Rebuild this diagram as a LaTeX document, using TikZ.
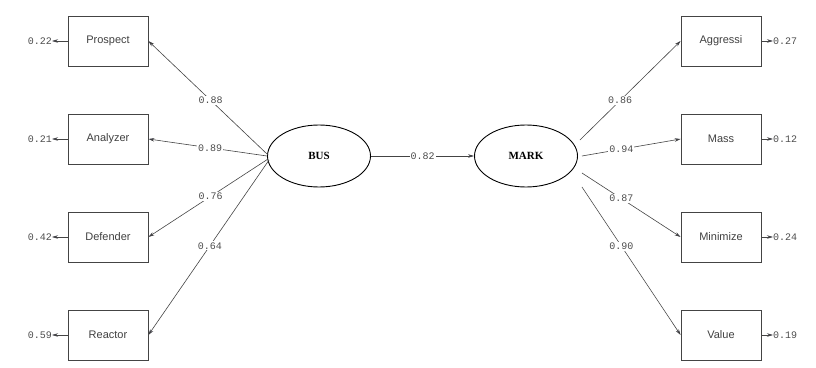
\documentclass[tikz,border=0pt]{standalone}
\usepackage{fontspec}
\setmainfont{Liberation Sans}
\newfontfamily\labfont{Liberation Mono}
\newfontfamily\latfont{Liberation Serif}
\usetikzlibrary{arrows.meta,shapes.geometric,calc}
\definecolor{tipblue}{HTML}{1A1A5C}
\definecolor{linegray}{HTML}{444444}
\tikzset{
  obsbox/.style={draw=linegray, line width=0.8pt, minimum width=80pt, minimum height=50pt, inner sep=0pt, font=\fontsize{11}{12}\selectfont, text=black!75},
  latent/.style={ellipse, draw=black, line width=0.9pt, minimum width=103pt, minimum height=62pt, inner sep=0pt, font=\latfont\bfseries\fontsize{11}{12}\selectfont},
  path/.style={draw=linegray, line width=0.6pt, -{Stealth[length=6pt,width=3.5pt,fill=tipblue]}},
  coef/.style={fill=white, inner sep=1pt, font=\labfont\fontsize{10}{11}\selectfont, text=black!70},
  errtxt/.style={inner sep=0pt, font=\labfont\fontsize{10}{11}\selectfont, text=black!70},
}
\begin{document}
\begin{tikzpicture}[x=1pt,y=1pt]
\useasboundingbox (0,0) rectangle (816,367);
% latent variables
\node[latent] (bus) at (319,211) {BUS};
\node[latent] (mark) at (526,211) {MARK};
% indicators of BUS
\node[obsbox] (pro) at (108,326) {Prospect};
\node[obsbox] (ana) at (108,228) {Analyzer};
\node[obsbox] (def) at (108,130) {Defender};
\node[obsbox] (rea) at (108,32) {Reactor};
% indicators of MARK
\node[obsbox] (agg) at (721,326) {Aggressi};
\node[obsbox] (mas) at (721,228) {Mass};
\node[obsbox] (min) at (721,130) {Minimize};
\node[obsbox] (val) at (721,32) {Value};
% start points of the loading paths
\coordinate (b1) at ($(bus.west)+(1,1)$);
\coordinate (b2) at ($(bus.west)+(0,0)$);
\coordinate (b3) at ($(bus.west)+(1,-3)$);
\coordinate (b4) at ($(bus.west)+(2,-4)$);
\coordinate (m1) at ($(mark.east)+(2,16)$);
\coordinate (m2) at ($(mark.east)+(4,0)$);
\coordinate (m3) at ($(mark.east)+(4,-17)$);
\coordinate (m4) at ($(mark.east)+(4,-31)$);
% structural path
\draw[path] (bus) -- node[coef] {0.82} (mark);
% loadings
\draw[path] (b1) -- node[coef,pos=0.48] {0.88} (pro.east);
\draw[path] (b2) -- node[coef,pos=0.48] {0.89} (ana.east);
\draw[path] (b3) -- node[coef,pos=0.48] {0.76} (def.east);
\draw[path] (b4) -- node[coef,pos=0.49] {0.64} (rea.east);
\draw[path] (m1) -- node[coef,pos=0.40] {0.86} (agg.west);
\draw[path] (m2) -- node[coef,pos=0.40] {0.94} (mas.west);
\draw[path] (m3) -- node[coef,pos=0.40] {0.87} (min.west);
\draw[path] (m4) -- node[coef,pos=0.40] {0.90} (val.west);
% error terms
\foreach \b/\v in {pro/0.22, ana/0.21, def/0.42, rea/0.59}{
  \node[errtxt, anchor=east] (e\b) at (52,0 |- \b) {\v};
  \draw[path] (\b.west) -- (e\b.east);
}
\foreach \b/\v in {agg/0.27, mas/0.12, min/0.24, val/0.19}{
  \node[errtxt, anchor=west] (e\b) at (773,0 |- \b) {\v};
  \draw[path] (\b.east) -- (e\b.west);
}
\end{tikzpicture}
\end{document}
